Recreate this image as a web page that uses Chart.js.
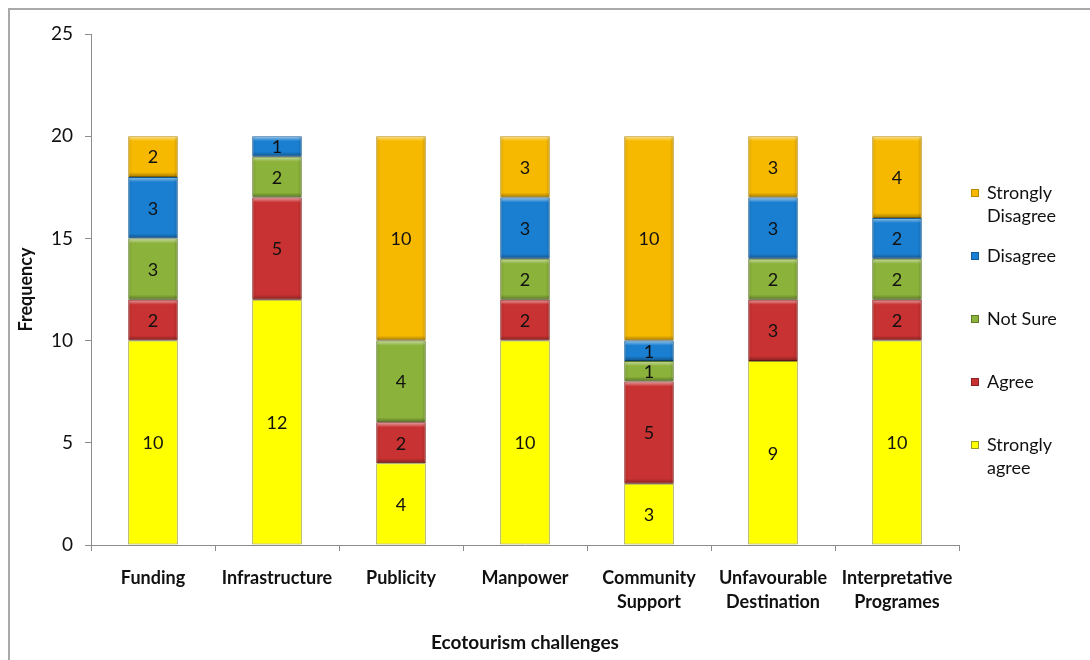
<!DOCTYPE html>
<html lang="en">
<head>
<meta charset="UTF-8">
<title>Ecotourism challenges</title>
<script src="https://cdn.jsdelivr.net/npm/chart.js"></script>
<style>
  html, body { margin: 0; padding: 0; background: #fff; overflow: hidden; }
  #wrap { position: relative; width: 1090px; height: 660px; }
  #frame { position: absolute; left: 8px; top: 8px; width: 1100px; height: 700px;
           border-top: 2px solid #a9a9a9; border-left: 2px solid #a9a9a9; }
  canvas { position: absolute; left: 0; top: 0; }
</style>
</head>
<body>
<div id="wrap">
  <div id="frame"></div>
  <canvas id="grafico" width="1090" height="660"></canvas>
</div>
<script>
// categorie e valori
const categories = [
  "Funding", "Infrastructure", "Publicity", "Manpower",
  ["Community", "Support"], ["Unfavourable", "Destination"], ["Interpretative", "Programes"]
];
const stronglyAgree    = [10, 12, 4, 10, 3, 9, 10];
const agree            = [2, 5, 2, 2, 5, 3, 2];
const notSure          = [3, 2, 4, 2, 1, 2, 2];
const disagree         = [3, 1, 0, 3, 1, 3, 2];
const stronglyDisagree = [2, 0, 10, 3, 10, 3, 4];
const yTicks = [0, 5, 10, 15, 20, 25];

const FONT = "Lato, 'Open Sans', sans-serif";

// etichette dei valori al centro di ogni segmento
const valueLabels = {
  id: "valueLabels",
  afterDatasetsDraw(chart) {
    const ctx = chart.ctx;
    ctx.save();
    ctx.font = "18px " + FONT;
    ctx.fillStyle = "#111";
    ctx.textAlign = "center";
    ctx.textBaseline = "middle";
    chart.data.datasets.forEach((ds, i) => {
      chart.getDatasetMeta(i).data.forEach((bar, j) => {
        const v = ds.data[j];
        if (!v) return;
        ctx.fillText(String(v), bar.x, (bar.y + bar.base) / 2 + 1);
      });
    });
    ctx.restore();
  }
};

// effetto rilievo sui segmenti (tranne il giallo)
const bevel = {
  id: "bevel",
  afterDatasetsDraw(chart) {
    const ctx = chart.ctx;
    ctx.save();
    chart.data.datasets.forEach((ds, i) => {
      if (ds.flat) return;
      chart.getDatasetMeta(i).data.forEach((bar, j) => {
        if (!ds.data[j]) return;
        const x0 = bar.x - bar.width / 2, x1 = bar.x + bar.width / 2;
        const top = bar.y, bot = bar.base;
        const h = bot - top;
        const b = Math.min(5, h / 4);
        let g = ctx.createLinearGradient(0, top, 0, top + b);
        g.addColorStop(0, "rgba(255,255,255,0.55)");
        g.addColorStop(1, "rgba(255,255,255,0)");
        ctx.fillStyle = g;
        ctx.fillRect(x0 + 1, top + 1, x1 - x0 - 2, b);
        g = ctx.createLinearGradient(0, bot - b, 0, bot);
        g.addColorStop(0, "rgba(0,0,0,0)");
        g.addColorStop(1, "rgba(0,0,0,0.35)");
        ctx.fillStyle = g;
        ctx.fillRect(x0 + 1, bot - b, x1 - x0 - 2, b);
        g = ctx.createLinearGradient(x0, 0, x1, 0);
        g.addColorStop(0, "rgba(0,0,0,0.12)");
        g.addColorStop(0.08, "rgba(0,0,0,0)");
        g.addColorStop(0.92, "rgba(0,0,0,0)");
        g.addColorStop(1, "rgba(0,0,0,0.18)");
        ctx.fillStyle = g;
        ctx.fillRect(x0 + 1, top + 1, x1 - x0 - 2, h - 2);
      });
    });
    ctx.restore();
  }
};

// legenda a destra, in ordine inverso
const sideLegend = {
  id: "sideLegend",
  afterDraw(chart) {
    const ctx = chart.ctx;
    ctx.save();
    ctx.font = "18px " + FONT;
    ctx.textBaseline = "middle";
    const sets = chart.data.datasets.slice().reverse();
    sets.forEach((ds, k) => {
      const y = 193 + k * 63;
      ctx.fillStyle = ds.backgroundColor;
      ctx.fillRect(971, y - 4, 8, 8);
      ctx.strokeStyle = ds.borderColor;
      ctx.lineWidth = 1;
      ctx.strokeRect(971.5, y - 3.5, 7, 7);
      ctx.fillStyle = "#111";
      const lines = Array.isArray(ds.label) ? ds.label : [ds.label];
      lines.forEach((t, n) => ctx.fillText(t, 987, y + n * 23));
    });
    ctx.restore();
  }
};

const ctx = document.getElementById("grafico").getContext("2d");
new Chart(ctx, {
  type: "bar",
  data: {
    labels: categories,
    datasets: [
      { label: ["Strongly", "agree"], data: stronglyAgree, backgroundColor: "#ffff00", borderColor: "#9a9a2a", flat: true },
      { label: "Agree", data: agree, backgroundColor: "#c83232", borderColor: "#8a2020" },
      { label: "Not Sure", data: notSure, backgroundColor: "#8bb23a", borderColor: "#5e7a26" },
      { label: "Disagree", data: disagree, backgroundColor: "#1a7fd0", borderColor: "#115c99" },
      { label: ["Strongly", "Disagree"], data: stronglyDisagree, backgroundColor: "#f7b900", borderColor: "#b88a00" }
    ]
  },
  options: {
    responsive: false,
    animation: false,
    events: [],
    layout: { padding: { left: 0, right: 131, top: 34, bottom: 0 } },
    datasets: { bar: { borderWidth: 1, categoryPercentage: 1, barPercentage: 0.4, borderSkipped: false } },
    plugins: { legend: { display: false }, tooltip: { enabled: false } },
    scales: {
      x: {
        stacked: true,
        afterFit(s) { s.height = 115; },
        grid: { offset: true, drawOnChartArea: false, tickLength: 6, color: "#8c8c8c" },
        border: { color: "#8c8c8c" },
        ticks: { color: "#111", font: { family: FONT, size: 18, weight: "bold", lineHeight: 1.33 }, padding: 15, maxRotation: 0, autoSkip: false },
        title: { display: true, text: "Ecotourism challenges", color: "#111",
                 font: { family: FONT, size: 19, weight: "bold" }, padding: { top: 0, bottom: 6 } }
      },
      y: {
        stacked: true,
        min: 0, max: 25,
        afterFit(s) { s.width = 91; },
        afterBuildTicks(s) { s.ticks = yTicks.map(v => ({ value: v })); },
        grid: { drawOnChartArea: false, tickLength: 6, color: "#8c8c8c" },
        border: { color: "#8c8c8c" },
        ticks: { color: "#111", font: { family: FONT, size: 19 }, padding: 12 },
        title: { display: true, text: "Frequency", color: "#111",
                 font: { family: FONT, size: 18, weight: "bold" }, padding: { top: 15, bottom: 0 } }
      }
    }
  },
  plugins: [valueLabels, bevel, sideLegend]
});
</script>
</body>
</html>
